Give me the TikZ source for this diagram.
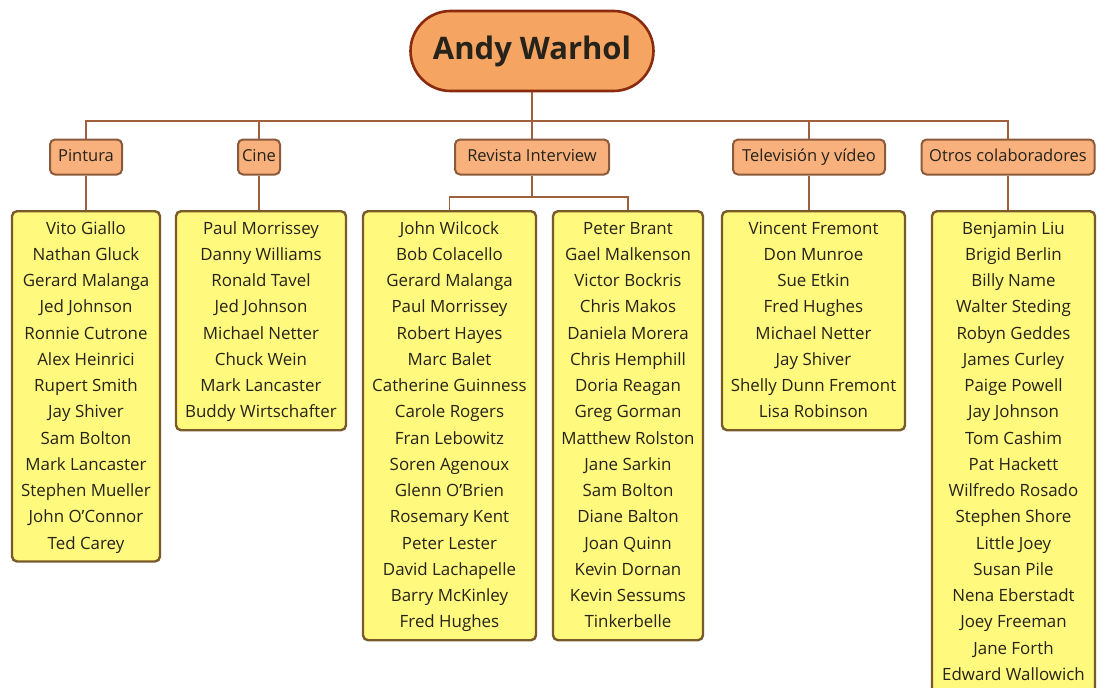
\documentclass[tikz,border=0pt]{standalone}
\usepackage{fontspec}
\setmainfont{Open Sans}
\definecolor{rootfill}{HTML}{F5A462}
\definecolor{rootline}{HTML}{8A2A0E}
\definecolor{catfill}{HTML}{F8B07C}
\definecolor{catline}{HTML}{8B5A3A}
\definecolor{wire}{HTML}{A0603C}
\definecolor{listfill}{HTML}{FFF97E}
\definecolor{listline}{HTML}{7A5A2A}
\definecolor{ink}{HTML}{26231A}
\tikzset{
  rootbox/.style={draw=rootline, line width=2.6pt, fill=rootfill, rounded corners=40pt,
    minimum width=243pt, minimum height=80pt, inner sep=0pt,
    font=\fontsize{31}{36}\selectfont\bfseries, text=ink},
  catbox/.style={draw=catline, line width=2pt, fill=catfill, rounded corners=5pt,
    minimum height=35pt, inner xsep=4pt, inner ysep=0pt,
    text height=12pt, text depth=4pt,
    font=\fontsize{16.5}{19}\selectfont, text=ink},
  listbox/.style={draw=listline, line width=2.4pt, fill=listfill, rounded corners=5pt,
    anchor=north, align=center, inner xsep=3pt, inner ysep=4.5pt,
    font=\fontsize{16.9}{26.25}\selectfont, text=ink},
  conn/.style={draw=wire, line width=1.8pt}
}
\begin{document}
\begin{tikzpicture}[x=1pt,y=-1pt]
\useasboundingbox (0,0) rectangle (1098,688);
\fill[white] (0,0) rectangle (1098,688);

% root and category row
\node[rootbox] (root) at (532,51) {Andy Warhol};
\node[catbox, minimum width=72pt]  (pin) at (86,157)   {Pintura};
\node[catbox, minimum width=42pt]  (cine) at (259,157) {Cine};
\node[catbox, minimum width=154pt] (rev) at (532,157)  {Revista Interview};
\node[catbox, minimum width=152pt] (tv) at (809,157)   {Televisión y vídeo};
\node[catbox, minimum width=173pt] (otros) at (1008,157) {Otros colaboradores};

% name lists
\node[listbox, minimum width=148pt] (l1) at (86,210) {\strut Vito Giallo\\Nathan Gluck\\Gerard Malanga\\Jed Johnson\\Ronnie Cutrone\\Alex Heinrici\\Rupert Smith\\Jay Shiver\\Sam Bolton\\Mark Lancaster\\Stephen Mueller\\John O'Connor\\Ted Carey\strut};
\node[listbox, minimum width=170pt] (l2) at (261,210) {\strut Paul Morrissey\\Danny Williams\\Ronald Tavel\\Jed Johnson\\Michael Netter\\Chuck Wein\\Mark Lancaster\\Buddy Wirtschafter\strut};
\node[listbox, minimum width=173pt] (l3a) at (449.5,210) {\strut John Wilcock\\Bob Colacello\\Gerard Malanga\\Paul Morrissey\\Robert Hayes\\Marc Balet\\Catherine Guinness\\Carole Rogers\\Fran Lebowitz\\Soren Agenoux\\Glenn O'Brien\\Rosemary Kent\\Peter Lester\\David Lachapelle\\Barry McKinley\\Fred Hughes\strut};
\node[listbox, minimum width=150pt] (l3b) at (628,210) {\strut Peter Brant\\Gael Malkenson\\Victor Bockris\\Chris Makos\\Daniela Morera\\Chris Hemphill\\Doria Reagan\\Greg Gorman\\Matthew Rolston\\Jane Sarkin\\Sam Bolton\\Diane Balton\\Joan Quinn\\Kevin Dornan\\Kevin Sessums\\Tinkerbelle\strut};
\node[listbox, minimum width=183pt] (l4) at (813.5,210) {\strut Vincent Fremont\\Don Munroe\\Sue Etkin\\Fred Hughes\\Michael Netter\\Jay Shiver\\Shelly Dunn Fremont\\Lisa Robinson\strut};
\node[listbox, minimum width=163pt] (l5) at (1013.5,210) {\strut Benjamin Liu\\Brigid Berlin\\Billy Name\\Walter Steding\\Robyn Geddes\\James Curley\\Paige Powell\\Jay Johnson\\Tom Cashim\\Pat Hackett\\Wilfredo Rosado\\Stephen Shore\\Little Joey\\Susan Pile\\Nena Eberstadt\\Joey Freeman\\Jane Forth\\Edward Wallowich\strut};

% connectors
\coordinate (bus) at (0,121);
\coordinate (rbus) at (0,197);
\draw[conn] (root.south) -- (root.south |- bus);
\draw[conn] (pin.north) -- (pin.north |- bus) -| (otros.north);
\draw[conn] (cine.north) -- (cine.north |- bus);
\draw[conn] (rev.north) -- (rev.north |- bus);
\draw[conn] (tv.north) -- (tv.north |- bus);
\draw[conn] (pin.south) -- (l1.north);
\draw[conn] (cine.south) -- (cine.south |- l2.north);
\draw[conn] (rev.south) -- (rev.south |- rbus);
\draw[conn] (l3a.north) -- (l3a.north |- rbus) -| (l3b.north);
\draw[conn] (tv.south) -- (tv.south |- l4.north);
\draw[conn] (otros.south) -- (otros.south |- l5.north);
\end{tikzpicture}
\end{document}
